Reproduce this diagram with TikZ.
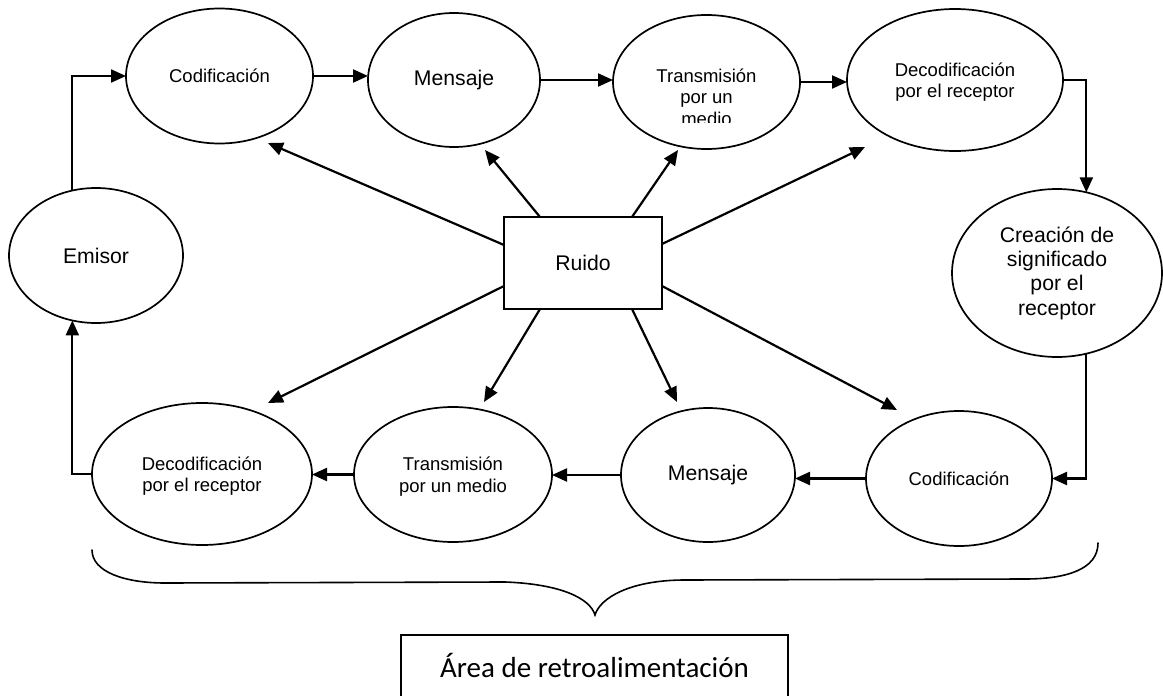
\documentclass[tikz,border=0pt]{standalone}
\usepackage{fontspec}
\setmainfont{Liberation Sans}
\newfontfamily\calibfont{Carlito}
\usetikzlibrary{arrows.meta,shapes.geometric,calc}
\begin{document}
\begin{tikzpicture}[x=1pt,y=-1pt,
  ell/.style={ellipse,draw,line width=1.7pt,inner sep=0pt,outer sep=0pt,align=center},
  arr/.style={line width=2.2pt,-{Triangle[length=15pt,width=13pt]}},
  smalltxt/.style={font=\fontsize{18.5}{21.5}\selectfont},
  bigtxt/.style={font=\fontsize{21.2}{24.3}\selectfont},
  lowtext/.style={text depth=-8pt},
  bracepath/.style={line width=1.6pt,line cap=round},
]
\useasboundingbox (0,0) rectangle (1163,696);
\clip (0,0) rectangle (1163,696);

% top row
\node[ell,smalltxt,minimum width=187pt,minimum height=135pt] (c1) at (219.5,76) {Codificación};
\node[ell,bigtxt,minimum width=172pt,minimum height=134pt] (m1) at (454,80) {Mensaje};
\node[ell,minimum width=187pt,minimum height=134pt] (t1) at (706.5,82) {};
\begin{scope}
  \clip ($(t1.center)+(-90,-60)$) rectangle ($(t1.center)+(90,40)$);
  \node[smalltxt,align=center] (t1txt) at ($(t1.center)+(0,15)$) {Transmisión\\por un\\medio};
\end{scope}
\node[ell,smalltxt,lowtext,minimum width=216pt,minimum height=142pt] (d1) at (955,80) {Decodificación\\por el receptor};

% sides
\node[ell,bigtxt,minimum width=174pt,minimum height=135pt] (em) at (96,255.5) {Emisor};
\node[ell,bigtxt,minimum width=210pt,minimum height=168pt] (cr) at (1057,273) {Creación de\\significado\\por el\\receptor};

% centre
\node[draw,rectangle,line width=1.7pt,inner sep=0pt,outer sep=0pt,bigtxt,minimum width=158pt,minimum height=92pt] (ruido) at (583,263) {Ruido};

% bottom row
\node[ell,smalltxt,lowtext,minimum width=220pt,minimum height=142pt] (d2) at (202,474) {Decodificación\\por el receptor};
\node[ell,smalltxt,lowtext,minimum width=198pt,minimum height=135pt] (t2) at (453,474.5) {Transmisión\\por un medio};
\node[ell,bigtxt,minimum width=174pt,minimum height=134pt] (m2) at (708,475) {Mensaje};
\node[ell,smalltxt,minimum width=186pt,minimum height=135pt] (c2) at (959,478.5) {Codificación};

% cycle connectors
\draw[arr] (em.110) |- (c1.west);
\draw[arr] (c1.east) -- (c1.east -| m1.west);
\draw[arr] (m1.east) -- (m1.east -| t1.west);
\draw[arr] (t1.east) -- (t1.east -| d1.west);
\draw[arr] (d1.east) -| (cr.70);
\draw[arr] (cr.290) |- (c2.east);
\draw[arr] (c2.west) -- (c2.west -| m2.east);
\draw[arr] (m2.west) -- (m2.west -| t2.east);
\draw[arr] (t2.west) -- (t2.west -| d2.east);
\draw[arr] (d2.west) -| (em.250);

% noise arrows
\draw[arr] ($(ruido.center)+(-79,-18)$) -- ($(c1.center)+(48.5,67)$);
\draw[arr] ($(ruido.center)+(-43,-46)$) -- ($(m1.center)+(31,70)$);
\draw[arr] ($(ruido.center)+(49,-46)$) -- ($(t1.center)+(-28.5,68)$);
\draw[arr] ($(ruido.center)+(79,-19)$) -- ($(d1.center)+(-90,67)$);
\draw[arr] ($(ruido.center)+(-79,23)$) -- ($(d2.center)+(66,-71)$);
\draw[arr] ($(ruido.center)+(-43,46)$) -- ($(t2.center)+(31,-72.5)$);
\draw[arr] ($(ruido.center)+(49,46)$) -- ($(m2.center)+(-31,-73)$);
\draw[arr] ($(ruido.center)+(79,23)$) -- ($(c2.center)+(-62,-68.5)$);

% brace
\draw[bracepath] (92,550) .. controls (92,572) and (125,583) .. (165,583)
  -- (505,582) .. controls (560,584) and (590,598) .. (595,615)
  .. controls (600,598) and (630,580) .. (685,580)
  -- (1025,579) .. controls (1065,579) and (1098,570) .. (1098,543);

% feedback box
\node[draw,rectangle,line width=1.7pt,inner sep=0pt,outer sep=0pt,anchor=north,
      minimum width=387pt,minimum height=70pt,
      font=\calibfont\fontsize{29}{34}\selectfont] (area) at (594.5,635)
      {Área de retroalimentación\rule[-10pt]{0pt}{10pt}};
\end{tikzpicture}
\end{document}
